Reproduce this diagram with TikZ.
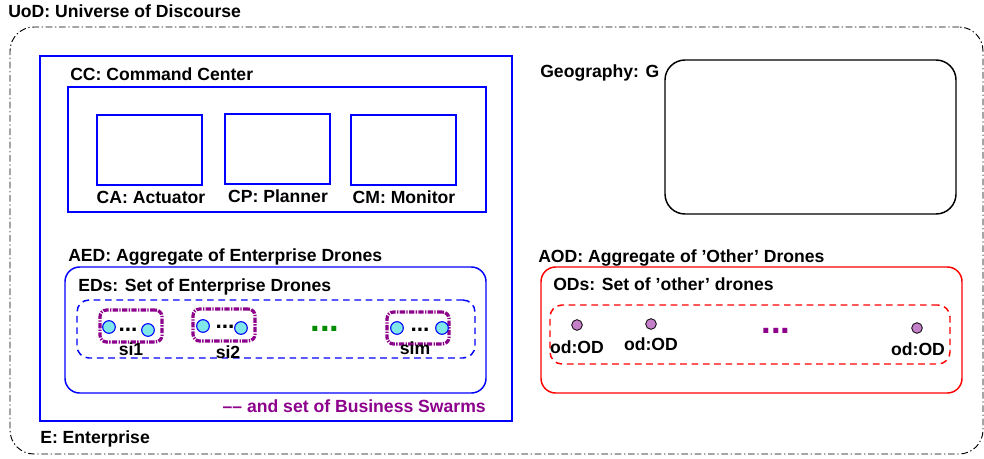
\documentclass[tikz,border=0pt]{standalone}
\usepackage{fontspec}
\setmainfont{Liberation Sans}
\usetikzlibrary{positioning}

\definecolor{swarmpurple}{RGB}{140,0,140}
\definecolor{edcyan}{RGB}{128,232,232}
\definecolor{odfill}{RGB}{196,128,200}
\definecolor{dotgreen}{RGB}{0,140,0}

\begin{document}
\begin{tikzpicture}[
        x=0.75pt, y=-0.75pt,
        box/.style={rectangle, draw, anchor=north west, inner sep=0pt, outer sep=0pt},
        lbl/.style={font=\bfseries\fontsize{13.2}{15}\selectfont, inner sep=0pt, anchor=base west},
        unit/.style={box, draw=blue, line width=1.1pt, minimum width=78.75pt, minimum height=52.5pt},
        swarm/.style={box, draw=swarmpurple, line width=2.4pt, rounded corners=5pt, dash pattern=on 4pt off 1pt on 1pt off 1pt, minimum width=46.5pt, minimum height=24pt},
        ed/.style={circle, draw=blue, fill=edcyan, line width=0.8pt, minimum size=9.5pt, inner sep=0pt},
        od/.style={circle, draw=black, fill=odfill, line width=0.6pt, minimum size=8pt, inner sep=0pt},
        more/.style={font=\bfseries\fontsize{26}{28}\selectfont, inner sep=0pt, anchor=base},
        few/.style={font=\bfseries\fontsize{17}{18}\selectfont, inner sep=0pt, anchor=base}
    ]
    \useasboundingbox (0,0) rectangle (984,458);

    % universe of discourse
    \node[box, draw=black, line width=0.7pt, dash pattern=on 5pt off 2pt on 1pt off 2pt, rounded corners=18pt, minimum width=729.75pt, minimum height=320.25pt] (uod) at (10,27) {};
    \node[lbl] (uodLbl) at (8,17) {UoD: Universe of Discourse};

    % enterprise
    \node[box, draw=blue, line width=1.5pt, minimum width=354pt, minimum height=273.75pt] (e) at (40,56) {};
    \node[lbl] (eLbl) at (40,443) {E: Enterprise};

    % command center
    \node[box, draw=blue, line width=1.1pt, minimum width=313.5pt, minimum height=93.75pt] (cc) at (68,87) {};
    \node[lbl] (ccLbl) at (70,80) {CC: Command Center};
    \node[unit] (ca) at (97,115) {};
    \node[unit] (cp) at (225,114) {};
    \node[unit] (cm) at (351,115) {};
    \node[lbl, anchor=base] (caLbl) at (151,203) {CA: Actuator};
    \node[lbl, anchor=base] (cpLbl) at (278,202) {CP: Planner};
    \node[lbl, anchor=base] (cmLbl) at (404,203) {CM: Monitor};

    % enterprise drones
    \node[box, draw=blue, line width=1.1pt, rounded corners=11pt, minimum width=315.75pt, minimum height=94.5pt] (aed) at (65,267) {};
    \node[lbl] (aedLbl) at (68,261) {AED: Aggregate of Enterprise Drones};
    \node[box, draw=blue, line width=1.1pt, dash pattern=on 5pt off 3.5pt, rounded corners=9pt, minimum width=298.5pt, minimum height=43.5pt] (eds) at (77,300) {};
    \node[lbl] (edsLbl) at (78,291) {EDs: Set of Enterprise Drones};

    % business swarms
    \node[swarm] (si1) at (100,310) {};
    \node[ed] (si1a) at (109,327) {};
    \node[ed] (si1b) at (148,330) {};
    \node[few] (si1d) at (128,331) {...};
    \node[lbl, anchor=base] (si1Lbl) at (131,355) {si1};

    \node[swarm] (si2) at (193,309) {};
    \node[ed] (si2a) at (203,326) {};
    \node[ed] (si2b) at (241,328) {};
    \node[few] (si2d) at (225,328) {...};
    \node[lbl, anchor=base] (si2Lbl) at (228,358) {si2};

    \node[more, text=dotgreen] (edMore) at (325,331) {...};

    \node[swarm] (sim) at (387,312) {};
    \node[ed] (sima) at (397,328) {};
    \node[ed] (simb) at (442,328) {};
    \node[few] (simd) at (420,331) {...};
    \node[lbl, anchor=base] (simLbl) at (415,354) {sim};

    \node[lbl, anchor=base east, text=swarmpurple] (bsLbl) at (486,412) {\textendash\textendash\ and set of Business Swarms};

    % geography
    \node[box, draw=black, line width=1.1pt, rounded corners=15pt, minimum width=218.25pt, minimum height=115.5pt] (g) at (665,60) {};
    \node[lbl] (gLbl) at (540,77) {Geography: G};

    % other drones
    \node[box, draw=red, line width=1.1pt, rounded corners=11pt, minimum width=315.75pt, minimum height=94.5pt] (aod) at (541,267) {};
    \node[lbl] (aodLbl) at (538,262) {AOD: Aggregate of \textquoteright Other\textquoteright\ Drones};
    \node[box, draw=red, line width=1.1pt, dash pattern=on 5pt off 3.5pt, rounded corners=9pt, minimum width=300pt, minimum height=44.25pt] (ods) at (550,305) {};
    \node[lbl] (odsLbl) at (553,290) {ODs: Set of \textquoteright other\textquoteright\ drones};

    \node[od] (od1) at (577,325) {};
    \node[od] (od2) at (651,324) {};
    \node[od] (od3) at (917,328) {};
    \node[lbl, anchor=base] (od1Lbl) at (577,353) {od:OD};
    \node[lbl, anchor=base] (od2Lbl) at (651,350) {od:OD};
    \node[lbl, anchor=base] (od3Lbl) at (918,355) {od:OD};
    \node[more, text=swarmpurple] (odMore) at (776,333) {...};
\end{tikzpicture}
\end{document}
